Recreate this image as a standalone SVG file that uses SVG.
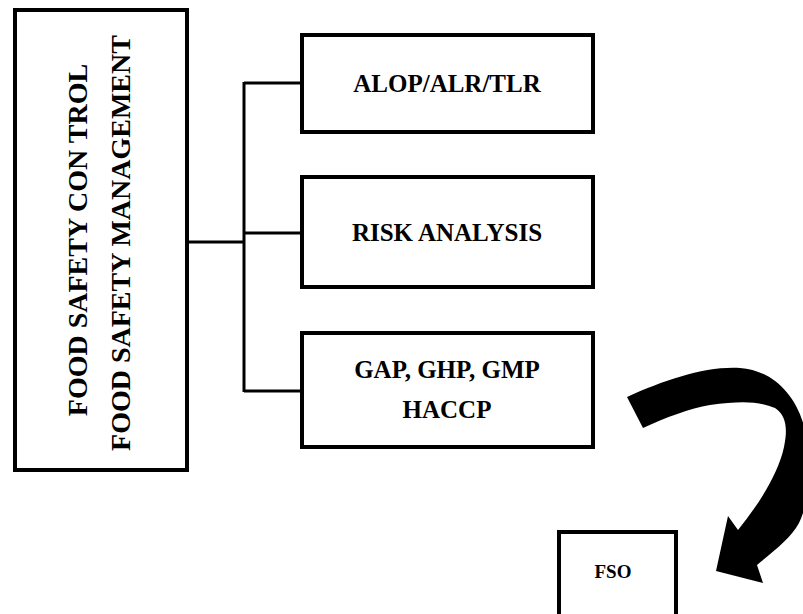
<svg xmlns="http://www.w3.org/2000/svg" width="803" height="614" viewBox="0 0 803 614">
<style>
.box{fill:#fff;stroke:#000;stroke-width:4}
.t{font-family:"Liberation Serif","Times New Roman",serif;font-weight:bold;fill:#000;text-anchor:middle}
.c{fill:none;stroke:#000;stroke-width:3}
</style>
<rect width="803" height="614" fill="#fff"/>
<g id="connectors">
<line class="c" x1="187" y1="242" x2="244" y2="242" stroke-width="4"/>
<line class="c" x1="244" y1="82" x2="244" y2="392"/>
<line class="c" x1="244" y1="83" x2="302" y2="83"/>
<line class="c" x1="244" y1="233" x2="302" y2="233"/>
<line class="c" x1="244" y1="391" x2="302" y2="391"/>
<path id="curved-arrow" fill="#000" d="M627,397 C665,380 705,366 740,368 C772,370 797,395 805,430 C812,465 810,500 799,523 C791,538 775,550 757,565 L763,583 L716,571 L728,516 L738,530 C758,505 778,475 784,447 C788,428 786,415 775,408 C758,401 740,401 710,405 C690,408 665,418 643,428 Z"/>
</g>
<g id="food-safety">
<rect class="box" x="15" y="10" width="172" height="460"/>
<text class="t" font-size="28" transform="translate(87,240) rotate(-90)">FOOD SAFETY CON TROL</text>
<text class="t" font-size="28" transform="translate(130,243) rotate(-90)">FOOD SAFETY MANAGEMENT</text>
</g>
<g id="alop">
<rect class="box" x="302" y="35" width="291" height="97"/>
<text class="t" font-size="25" x="447" y="92">ALOP/ALR/TLR</text>
</g>
<g id="risk">
<rect class="box" x="302" y="177" width="291" height="110"/>
<text class="t" font-size="25" x="447" y="241">RISK ANALYSIS</text>
</g>
<g id="gap">
<rect class="box" x="302" y="333" width="291" height="114"/>
<text class="t" font-size="25" x="447" y="378">GAP, GHP, GMP</text>
<text class="t" font-size="25" x="447" y="418">HACCP</text>
</g>
<g id="fso">
<rect class="box" x="559" y="532" width="117" height="90"/>
<text class="t" font-size="19" x="613" y="578">FSO</text>
</g>
</svg>
